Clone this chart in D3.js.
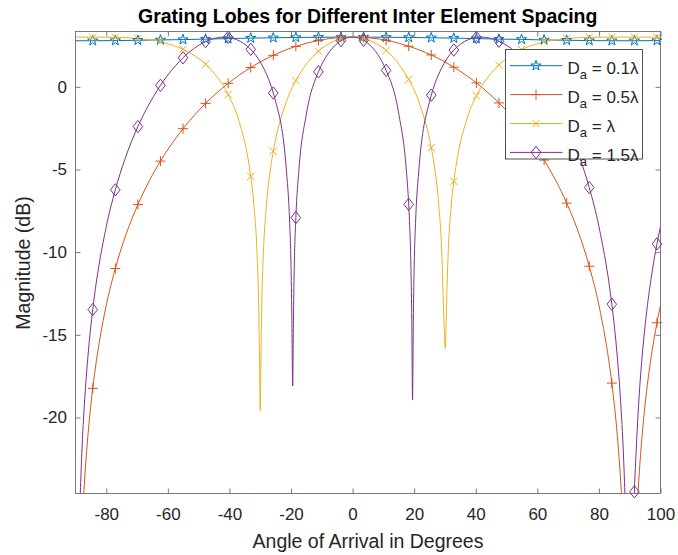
<!DOCTYPE html>
<html>
<head>
<meta charset="utf-8">
<script src="https://cdn.jsdelivr.net/npm/d3@7"></script>
<style>
  body { margin: 0; background: #fff; }
  text { font-family: "Liberation Sans", Arial, Helvetica, sans-serif; fill: #262626; }
</style>
</head>
<body>
<div id="chart"></div>
<script>
// angles (deg) where every series carries a marker
const markerAngles = [-84.4, -77.07, -69.74, -62.41, -55.08, -47.75, -40.42, -33.09, -25.76, -18.43, -11.1, -3.77,
  3.56, 10.89, 18.22, 25.55, 32.88, 40.21, 47.54, 54.87, 62.2, 69.53, 76.86, 84.19, 91.52, 98.85];

// magnitude (dB) at the marker angles
const mk01 = [2.79, 2.80, 2.82, 2.84, 2.86, 2.89, 2.92, 2.95, 2.97, 2.99, 3.00, 3.01,
  3.01, 3.00, 2.99, 2.97, 2.95, 2.92, 2.89, 2.87, 2.84, 2.82, 2.80, 2.79, 2.79, 2.80];
const mk05 = [-18.24, -10.99, -7.12, -4.49, -2.53, -1.00, 0.21, 1.17, 1.91, 2.45, 2.81, 2.99,
  2.99, 2.82, 2.46, 1.93, 1.19, 0.24, -0.97, -2.48, -4.43, -7.03, -10.85, -17.92, -29.59, -14.27];
const mk10 = [3.01, 3.00, 2.93, 2.73, 2.28, 1.37, -0.46, -5.41, -3.89, 0.38, 2.16, 2.92,
  2.93, 2.20, 0.45, -3.68, -5.71, -0.54, 1.33, 2.26, 2.72, 2.92, 3.00, 3.01, 3.01, 3.01];
const mk15 = [-13.47, -6.23, -2.40, 0.09, 1.76, 2.74, 2.99, 2.27, -0.37, -7.91, 0.91, 2.80,
  2.82, 1.00, -7.11, -0.50, 2.23, 2.99, 2.76, 1.80, 0.15, -2.32, -6.09, -13.15, -24.5, -9.50];

// extra samples of each curve (between markers, nulls, edges)
const ex01Angles = [-90, 100];
const ex01Db = [2.79, 2.80];

const ex05Angles = [-90, -89, -88, -87, -86, -85, -82, -80, -73.5, -66, 0, 66, 73.5, 80, 82,
  86, 87, 88, 89, 90, 91, 92, 93, 94, 95, 97, 100];
const ex05Db = [-40, -33.2, -27.18, -23.66, -21.16, -19.22, -15.15, -13.21, -8.88, -5.67, 3.01, -5.67, -8.88, -13.21, -15.15,
  -21.16, -23.66, -27.18, -33.2, -40, -33.2, -27.18, -23.66, -21.16, -19.22, -16.30, -13.21];

const ex10Angles = [-90, -60, -52, -44, -37, -33.5, -32, -31, -30.5, -30.25, -30, -29.75, -29.5, -29, -28, -26.5,
  -22, -15, -7, 0, 7, 15, 22, 26.5, 28, 29, 29.5, 30.1, 30.5, 31, 32, 33.5, 37, 44, 52, 60, 90, 100];
const ex10Db = [3.01, 2.61, 1.97, 0.60, -2.01, -4.88, -7.27, -10.25, -13.25, -16.25, -19.6, -16.24, -13.22, -10.20, -7.18, -4.73,
  -1.15, 1.38, 2.68, 3.01, 2.68, 1.38, -1.15, -4.73, -7.18, -10.20, -13.22, -15.8, -13.25, -10.25, -7.27, -4.88, -2.01, 0.60, 1.97, 2.61, 3.01, 3.005];

const ex15Angles = [-90, -89, -88, -87, -86, -85, -80, -74, -67, -60, -53, -41.81, -35, -30, -25,
  -21.47, -20.47, -19.97, -19.72, -19.47, -19.22, -18.97, -17.47, -15, -10, -5, 0, 5, 10, 15,
  17.47, 18.47, 18.97, 19.22, 19.47, 19.72, 19.97, 20.47, 21.47, 25, 30, 35, 41.81, 53, 60,
  67, 74, 80, 85, 86, 87, 88, 89, 90, 91, 92, 93, 94, 95, 97, 100];
const ex15Db = [-40, -28.43, -22.41, -18.89, -16.39, -14.45, -8.45, -4.40, -1.36, 0.72, 2.11, 3.01, 2.58, 1.51, -0.88,
  -5.13, -8.11, -11.11, -14.12, -18.1, -14.12, -11.10, -5.08, -1.63, 1.36, 2.63, 3.01, 2.63, 1.36, -1.63,
  -5.08, -8.09, -11.10, -14.12, -18.95, -14.12, -11.11, -8.11, -5.13, -0.88, 1.51, 2.58, 3.01, 2.11, 0.72,
  -1.36, -4.40, -8.45, -14.45, -16.39, -18.89, -22.41, -28.43, -40, -28.43, -22.41, -18.89, -16.39, -14.45, -11.53, -8.45];

const legendLabels = [" = 0.1\u03bb", " = 0.5\u03bb", " = \u03bb", " = 1.5\u03bb"];
const xTicks = [-80, -60, -40, -20, 0, 20, 40, 60, 80, 100];
const yTicks = [-20, -15, -10, -5, 0];

const width = 678;
const height = 555;
const axisColor = "#262626";
const boxColor = "#5a5a5a";

const markerPath = {
  star: d3.symbol(d3.symbolStar, 32)(),
  plus: "M-5,0H5M0,-5V5",
  cross: "M-3.7,-3.7L3.7,3.7M-3.7,3.7L3.7,-3.7",
  diamond: "M0,-6.2L4.8,0L0,6.2L-4.8,0Z"
};

const series = [
  { mk: mk01, exA: ex01Angles, exV: ex01Db, color: "#0072BD", marker: "star" },
  { mk: mk05, exA: ex05Angles, exV: ex05Db, color: "#D95319", marker: "plus" },
  { mk: mk10, exA: ex10Angles, exV: ex10Db, color: "#EDB120", marker: "cross" },
  { mk: mk15, exA: ex15Angles, exV: ex15Db, color: "#7E2F8E", marker: "diamond" }
];

// marker samples + extra samples, in angle order
function curvePoints(s) {
  const pts = markerAngles.map((a, i) => [a, s.mk[i]])
    .concat(s.exA.map((a, i) => [a, s.exV[i]]));
  return pts.sort((p, q) => p[0] - q[0]);
}

const x = d3.scaleLinear().domain([-90, 100]).range([75.5, 660.5]);
const y = d3.scaleLinear().domain([-24.6, 3.35]).range([493.5, 31.5]);

const svg = d3.select("#chart")
  .append("svg")
  .attr("width", width)
  .attr("height", height)
  .style("display", "block")
  .style("background", "#fff");

svg.append("defs").append("clipPath")
  .attr("id", "plotClip")
  .append("rect")
  .attr("x", x(-90))
  .attr("y", y(3.35))
  .attr("width", x(100) - x(-90))
  .attr("height", y(-24.6) - y(3.35));

// Axes
const fmt = d => String(d);

const gx = svg.append("g")
  .attr("transform", `translate(0,${y(-24.6)})`)
  .call(d3.axisBottom(x).tickValues(xTicks).tickFormat(fmt).tickSizeInner(-5).tickSizeOuter(0).tickPadding(14));
const gxTop = svg.append("g")
  .attr("transform", `translate(0,${y(3.35)})`)
  .call(d3.axisTop(x).tickValues(xTicks).tickFormat("").tickSizeInner(-5).tickSizeOuter(0));
const gy = svg.append("g")
  .attr("transform", `translate(${x(-90)},0)`)
  .call(d3.axisLeft(y).tickValues(yTicks).tickFormat(fmt).tickSizeInner(-5).tickSizeOuter(0).tickPadding(8.5));
const gyRight = svg.append("g")
  .attr("transform", `translate(${x(100)},0)`)
  .call(d3.axisRight(y).tickValues(yTicks).tickFormat("").tickSizeInner(-5).tickSizeOuter(0));

[gx, gxTop, gy, gyRight].forEach(g => {
  g.select(".domain").remove();
  g.selectAll(".tick line").attr("stroke", boxColor).attr("stroke-width", 0.8);
  g.selectAll(".tick text")
    .attr("fill", axisColor)
    .style("font-size", "17px")
    .style("font-family", '"Liberation Sans", Arial, sans-serif');
});

svg.append("rect")
  .attr("x", x(-90))
  .attr("y", y(3.35))
  .attr("width", x(100) - x(-90))
  .attr("height", y(-24.6) - y(3.35))
  .attr("fill", "none")
  .attr("stroke", boxColor)
  .attr("stroke-width", 0.8);

// Curves and markers
const line = d3.line()
  .x(d => x(d[0]))
  .y(d => y(d[1]))
  .curve(d3.curveMonotoneX);

const plot = svg.append("g").attr("clip-path", "url(#plotClip)");

series.forEach(s => {
  plot.append("path")
    .datum(curvePoints(s))
    .attr("fill", "none")
    .attr("stroke", s.color)
    .attr("stroke-width", 1)
    .attr("d", line);

  const marks = markerAngles.map((a, i) => [a, s.mk[i]])
    .filter(d => d[1] >= -24.6 && d[1] <= 3.35);

  svg.append("g").selectAll("path")
    .data(marks)
    .enter()
    .append("path")
    .attr("transform", d => `translate(${x(d[0])},${y(d[1])})`)
    .attr("d", markerPath[s.marker])
    .attr("fill", "none")
    .attr("stroke", s.color)
    .attr("stroke-width", 1);
});

// Title and labels
svg.append("text")
  .attr("x", 367.7)
  .attr("y", 23)
  .attr("text-anchor", "middle")
  .style("font-size", "19.5px")
  .style("font-weight", "bold")
  .style("fill", "#000")
  .text("Grating Lobes for Different Inter Element Spacing");

svg.append("text")
  .attr("x", (x(-90) + x(100)) / 2)
  .attr("y", 548)
  .attr("text-anchor", "middle")
  .style("font-size", "19.5px")
  .text("Angle of Arrival in Degrees");

svg.append("text")
  .attr("transform", "rotate(-90)")
  .attr("x", -263)
  .attr("y", 30)
  .attr("text-anchor", "middle")
  .style("font-size", "19.5px")
  .text("Magnitude (dB)");

// Legend
const legend = svg.append("g");
legend.append("rect")
  .attr("x", 505.5)
  .attr("y", 49.5)
  .attr("width", 137)
  .attr("height", 109.5)
  .attr("fill", "#fff")
  .attr("stroke", axisColor)
  .attr("stroke-width", 0.8);

series.forEach((s, i) => {
  const rowY = 65.7 + i * 28.9;
  legend.append("line")
    .attr("x1", 510).attr("x2", 562.5)
    .attr("y1", rowY).attr("y2", rowY)
    .attr("stroke", s.color)
    .attr("stroke-width", 1);
  legend.append("path")
    .attr("transform", `translate(536,${rowY})`)
    .attr("d", markerPath[s.marker])
    .attr("fill", "none")
    .attr("stroke", s.color)
    .attr("stroke-width", 1);
  const t = legend.append("text")
    .attr("x", 567.5)
    .attr("y", rowY + 8.5)
    .style("font-size", "17px");
  t.append("tspan").text("D");
  t.append("tspan").attr("dy", 5).style("font-size", "13px").text("a");
  t.append("tspan").attr("dy", -5).text(legendLabels[i]);
});
</script>
</body>
</html>
